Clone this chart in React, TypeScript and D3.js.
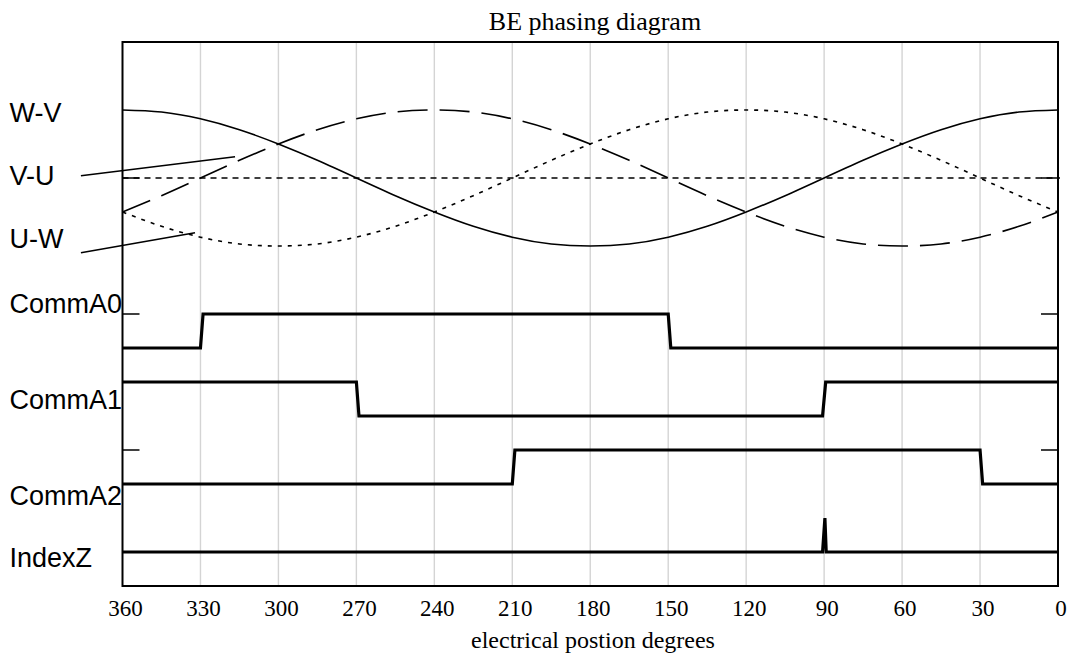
import React from "react";
import * as d3 from "d3";

// ---------- data ----------
const title = "BE phasing diagram";
const xLabel = "electrical postion degrees";
const xTicks = [360, 330, 300, 270, 240, 210, 180, 150, 120, 90, 60, 30, 0];
const yTicks = [0, 1, 2, 3, 4];

// analog phase signals, sampled every 15 degrees from 360 down to 0 (normalised -1..1)
const analogDegrees = [360, 345, 330, 315, 300, 285, 270, 255, 240, 225, 210, 195, 180, 165, 150, 135, 120, 105, 90, 75, 60, 45, 30, 15, 0];
const wvValues = [1.0, 0.97, 0.87, 0.71, 0.5, 0.26, 0.0, -0.26, -0.5, -0.71, -0.87, -0.97, -1.0, -0.97, -0.87, -0.71, -0.5, -0.26, 0.0, 0.26, 0.5, 0.71, 0.87, 0.97, 1.0];
const vuValues = [-0.5, -0.26, 0.0, 0.26, 0.5, 0.71, 0.87, 0.97, 1.0, 0.97, 0.87, 0.71, 0.5, 0.26, 0.0, -0.26, -0.5, -0.71, -0.87, -0.97, -1.0, -0.97, -0.87, -0.71, -0.5];
const uwValues = [-0.5, -0.71, -0.87, -0.97, -1.0, -0.97, -0.87, -0.71, -0.5, -0.26, 0.0, 0.26, 0.5, 0.71, 0.87, 0.97, 1.0, 0.97, 0.87, 0.71, 0.5, 0.26, 0.0, -0.26, -0.5];
const analogCenter = 3;
const analogAmplitude = 0.5;

// digital signals: [degree, level]
const commA0: [number, number][] = [[360, 0], [330, 0], [329, 1], [150, 1], [149, 0], [0, 0]];
const commA1: [number, number][] = [[360, 1], [270, 1], [269, 0], [90.6, 0], [89.4, 1], [0, 1]];
const commA2: [number, number][] = [[360, 0], [210, 0], [209, 1], [30, 1], [29, 0], [0, 0]];
const indexZ: [number, number][] = [[360, 0], [90.6, 0], [89.7, 1], [89.2, 0], [0, 0]];
const digitalBases = [1.75, 1.25, 0.75, 0.25];
const digitalStep = 0.25;

// labels on the left: text and baseline (in y units)
const labelNames = ["W-V", "V-U", "U-W", "CommA0", "CommA1", "CommA2", "IndexZ"];
const labelBaselines = [3.414, 2.949, 2.483, 2.005, 1.301, 0.596, 0.142];

// leader lines: [startDeg, startY, endDeg, endY]
const leaders: [number, number, number, number][] = [
  [376, 3.017, 316.7, 3.157],
  [376, 2.451, 332.1, 2.598],
];

// ---------- layout ----------
const W = 1072;
const H = 662;
const plot = { left: 122.5, right: 1058, top: 42, bottom: 586 };

export default function App() {
  const x = d3.scaleLinear().domain([360, 0]).range([plot.left, plot.right]);
  const y = d3.scaleLinear().domain([0, 4]).range([plot.bottom, plot.top]);

  const analogLine = d3
    .line<[number, number]>()
    .x((d) => x(d[0]))
    .y((d) => y(analogCenter + analogAmplitude * d[1]))
    .curve(d3.curveNatural);

  const toPts = (vals: number[]) => analogDegrees.map((deg, i) => [deg, vals[i]] as [number, number]);

  const digitalLine = (base: number) =>
    d3
      .line<[number, number]>()
      .x((d) => x(d[0]))
      .y((d) => y(base + digitalStep * d[1]));

  const digital = [commA0, commA1, commA2, indexZ];
  const serif = "'Liberation Serif', 'Times New Roman', serif";
  const sans = "'Liberation Sans', Arial, sans-serif";

  return (
    <svg width={W} height={H} style={{ position: "absolute", left: 0, top: 0, background: "#fff" }}>
      <rect x={0} y={0} width={W} height={H} fill="#fff" />
      {/* grid */}
      {xTicks
        .filter((t) => t !== 360 && t !== 0)
        .map((t) => (
          <line key={"g" + t} x1={x(t)} x2={x(t)} y1={plot.top} y2={plot.bottom} stroke="#d4d4d4" strokeWidth={1.4} />
        ))}
      {/* center reference line */}
      <line x1={x(360)} x2={x(0) + 2} y1={y(analogCenter)} y2={y(analogCenter)} stroke="#000" strokeWidth={1.5} strokeDasharray="6,5" />
      {/* analog curves */}
      <path d={analogLine(toPts(wvValues)) || ""} fill="none" stroke="#000" strokeWidth={1.6} />
      <path d={analogLine(toPts(vuValues)) || ""} fill="none" stroke="#000" strokeWidth={1.6} strokeDasharray="30,12" />
      <path d={analogLine(toPts(uwValues)) || ""} fill="none" stroke="#000" strokeWidth={1.6} strokeDasharray="4,6" />
      {/* digital */}
      {digital.map((sig, i) => (
        <path key={"d" + i} d={digitalLine(digitalBases[i])(sig) || ""} fill="none" stroke="#000" strokeWidth={3.2} strokeLinejoin="miter" />
      ))}
      {/* frame */}
      <rect x={plot.left} y={plot.top} width={plot.right - plot.left} height={plot.bottom - plot.top} fill="none" stroke="#000" strokeWidth={2} />
      {/* y ticks inward */}
      {yTicks.map((t) => (
        <g key={"yt" + t}>
          <line x1={plot.left} x2={plot.left + 17} y1={y(t)} y2={y(t)} stroke="#000" strokeWidth={1.5} />
          <line x1={plot.right - 17} x2={plot.right} y1={y(t)} y2={y(t)} stroke="#000" strokeWidth={1.5} />
        </g>
      ))}
      {/* x tick labels */}
      {xTicks.map((t) => (
        <text key={"xl" + t} x={x(t) + 3} y={616} textAnchor="middle" fontFamily={serif} fontSize={23} fill="#000">
          {t}
        </text>
      ))}
      {/* title and axis label */}
      <text x={595} y={30} textAnchor="middle" fontFamily={serif} fontSize={26} fill="#000">
        {title}
      </text>
      <text x={593} y={648} textAnchor="middle" fontFamily={serif} fontSize={24} fill="#000">
        {xLabel}
      </text>
      {/* left labels */}
      {labelNames.map((n, i) => (
        <text key={"lb" + n} x={9.5} y={y(labelBaselines[i])} fontFamily={sans} fontSize={27} fill="#000">
          {n}
        </text>
      ))}
      {/* leader lines */}
      {leaders.map((l, i) => (
        <line key={"ld" + i} x1={x(l[0])} y1={y(l[1])} x2={x(l[2])} y2={y(l[3])} stroke="#000" strokeWidth={1.5} />
      ))}
    </svg>
  );
}
